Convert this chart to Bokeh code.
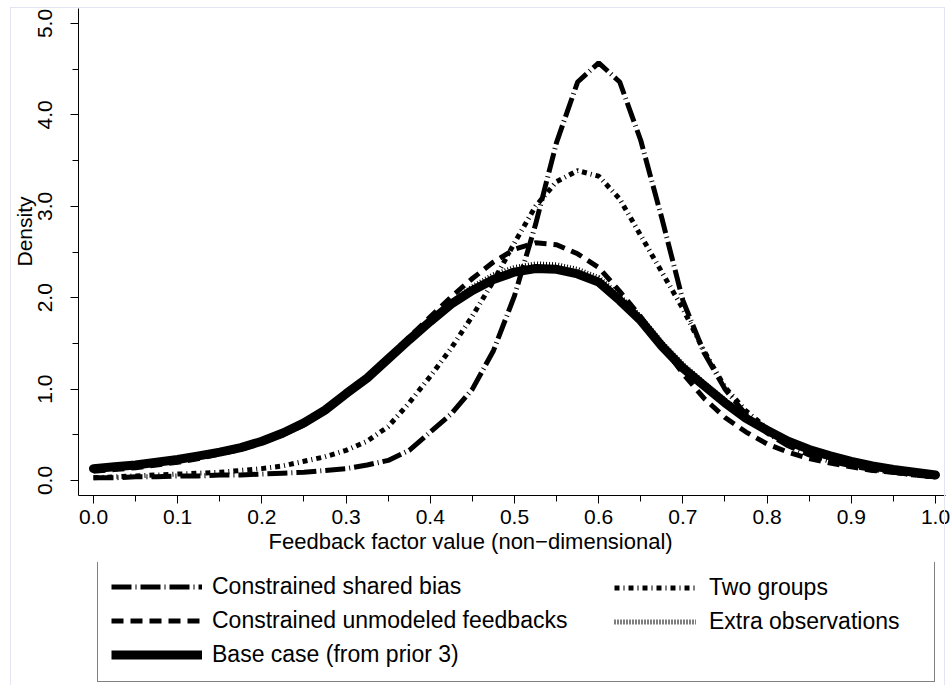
from bokeh.plotting import figure
from bokeh.layouts import column
from bokeh.models import (Range1d, FixedTicker, PrintfTickFormatter, Legend, LegendItem,
                          Title, InlineStyleSheet)
from bokeh.embed import file_html
from bokeh.resources import INLINE

# Feedback factor grid and posterior densities for each case
feedback = [0.000, 0.025, 0.050, 0.075, 0.100, 0.125, 0.150, 0.175, 0.200, 0.225,
            0.250, 0.275, 0.300, 0.325, 0.350, 0.375, 0.400, 0.425, 0.450, 0.475,
            0.500, 0.525, 0.550, 0.575, 0.600, 0.625, 0.650, 0.675, 0.700, 0.725,
            0.750, 0.775, 0.800, 0.825, 0.850, 0.875, 0.900, 0.925, 0.950, 0.975, 1.000]

shared_bias = [0.03, 0.03, 0.04, 0.04, 0.05, 0.05, 0.06, 0.06, 0.07, 0.08,
               0.09, 0.11, 0.13, 0.17, 0.22, 0.33, 0.53, 0.73, 1.00, 1.42,
               2.02, 2.80, 3.70, 4.36, 4.57, 4.36, 3.72, 2.87, 1.97, 1.40,
               1.00, 0.72, 0.52, 0.38, 0.28, 0.21, 0.16, 0.12, 0.09, 0.06, 0.04]

unmodeled = [0.10, 0.12, 0.14, 0.17, 0.20, 0.24, 0.29, 0.34, 0.41, 0.50,
             0.61, 0.75, 0.94, 1.13, 1.35, 1.57, 1.79, 2.01, 2.21, 2.39,
             2.53, 2.60, 2.58, 2.48, 2.33, 2.07, 1.79, 1.48, 1.17, 0.90,
             0.69, 0.53, 0.40, 0.31, 0.24, 0.19, 0.15, 0.11, 0.09, 0.07, 0.05]

base_case = [0.13, 0.15, 0.17, 0.20, 0.23, 0.27, 0.31, 0.36, 0.43, 0.52,
             0.63, 0.77, 0.95, 1.12, 1.33, 1.54, 1.74, 1.93, 2.08, 2.20,
             2.28, 2.32, 2.31, 2.26, 2.17, 1.97, 1.75, 1.47, 1.23, 1.04,
             0.85, 0.68, 0.55, 0.43, 0.34, 0.27, 0.21, 0.16, 0.12, 0.09, 0.06]

two_groups = [0.03, 0.04, 0.05, 0.06, 0.07, 0.08, 0.09, 0.11, 0.13, 0.16,
              0.21, 0.26, 0.33, 0.43, 0.59, 0.85, 1.14, 1.45, 1.80, 2.18,
              2.60, 3.00, 3.27, 3.39, 3.33, 3.08, 2.68, 2.28, 1.88, 1.42,
              1.02, 0.76, 0.57, 0.43, 0.32, 0.24, 0.18, 0.13, 0.09, 0.06, 0.04]

extra_obs = [0.13, 0.15, 0.17, 0.19, 0.22, 0.26, 0.30, 0.35, 0.42, 0.50,
             0.61, 0.75, 0.93, 1.11, 1.31, 1.53, 1.75, 1.95, 2.12, 2.25,
             2.33, 2.37, 2.36, 2.31, 2.22, 2.02, 1.79, 1.51, 1.27, 1.07,
             0.88, 0.70, 0.56, 0.44, 0.34, 0.27, 0.21, 0.16, 0.12, 0.09, 0.06]

x_ticks = [0.0, 0.1, 0.2, 0.3, 0.4, 0.5, 0.6, 0.7, 0.8, 0.9, 1.0]
x_minor = [0.05, 0.15, 0.25, 0.35, 0.45, 0.55, 0.65, 0.75, 0.85, 0.95]
y_ticks = [0, 1, 2, 3, 4, 5]
y_minor = [0.5, 1.5, 2.5, 3.5, 4.5]

FONT = "Liberation Sans, Arial, Helvetica, sans-serif"
TICK_FS = "21px"
LABEL_FS = "22px"
KEY_FS = "23px"

# line styles for each case
styles = {
    "shared": dict(line_color="black", line_width=5, line_dash="20 4 1 4"),
    "unmod": dict(line_color="black", line_width=5, line_dash="12 7"),
    "base": dict(line_color="black", line_width=9, line_cap="round"),
    "two": dict(line_color="black", line_width=5, line_dash="5 4 1 4"),
    "extra": dict(line_color="black", line_width=5, line_dash="1 2"),
}

p = figure(width=950, height=562, output_backend="svg", toolbar_location=None,
           x_range=Range1d(-0.0178, 1.0119), y_range=Range1d(-0.164, 5.164),
           min_border_left=78, min_border_right=5, min_border_top=8,
           min_border_bottom=67, background_fill_color="white",
           border_fill_color="white")
p.outline_line_color = None
p.xgrid.visible = False
p.ygrid.visible = False

for ax in (p.xaxis[0], p.yaxis[0]):
    ax.axis_line_color = "black"
    ax.major_tick_line_color = "black"
    ax.minor_tick_line_color = "black"
    ax.major_tick_in = 0
    ax.minor_tick_in = 0
    ax.major_tick_out = 8
    ax.minor_tick_out = 6
    ax.major_label_text_font = FONT
    ax.major_label_text_font_size = TICK_FS
    ax.major_label_text_color = "black"
    ax.formatter = PrintfTickFormatter(format="%.1f")

p.xaxis.ticker = FixedTicker(ticks=x_ticks, minor_ticks=x_minor)
p.yaxis.ticker = FixedTicker(ticks=y_ticks, minor_ticks=y_minor)
p.xaxis.major_label_standoff = 6
p.yaxis.major_label_orientation = "vertical"
p.yaxis.major_label_standoff = 18

xtitle = Title(text="Feedback factor value (non\u2212dimensional)", align="left",
               offset=190, standoff=0, text_font=FONT, text_font_size=LABEL_FS,
               text_font_style="normal", text_color="black")
p.add_layout(xtitle, "below")

ytitle = Title(text="Density", align="left", offset=229, standoff=0,
               text_font=FONT, text_font_size=TICK_FS, text_font_style="normal",
               text_color="black")
p.add_layout(ytitle, "left")

p.line(feedback, base_case, **styles["base"])
p.line(feedback, extra_obs, **styles["extra"])
p.line(feedback, unmodeled, **styles["unmod"])
p.line(feedback, two_groups, **styles["two"])
p.line(feedback, shared_bias, **styles["shared"])

# Key panel below the axes: same series styles, drawn outside its visible range
k = figure(width=950, height=123, output_backend="svg", toolbar_location=None,
           x_range=Range1d(2, 3), y_range=Range1d(2, 3), min_border=0,
           background_fill_color="white", border_fill_color="white")
k.axis.visible = False
k.grid.visible = False
k.outline_line_color = None

k_shared = k.line(feedback, shared_bias, **styles["shared"])
k_unmod = k.line(feedback, unmodeled, **styles["unmod"])
k_base = k.line(feedback, base_case, **{**styles["base"], "line_cap": "butt"})
k_two = k.line(feedback, two_groups, **styles["two"])
k_extra = k.line(feedback, extra_obs, **styles["extra"])

legend_style = dict(label_text_font=FONT, label_text_font_size=KEY_FS,
                    label_text_color="black", glyph_height=27, label_height=27,
                    spacing=7, padding=13, margin=0)

# the key's frame lines up with the plot frame (left edge at x=78)
leg_left = Legend(items=[LegendItem(label="Constrained shared bias", renderers=[k_shared]),
                         LegendItem(label="Constrained unmodeled feedbacks", renderers=[k_unmod]),
                         LegendItem(label="Base case (from prior 3)", renderers=[k_base])],
                  location=(19, 3), glyph_width=91, label_standoff=10,
                  label_width=709, border_line_color="black", border_line_width=1,
                  background_fill_color="white", background_fill_alpha=1,
                  **legend_style)
leg_right = Legend(items=[LegendItem(label="Two groups", renderers=[k_two]),
                          LegendItem(label="Extra observations", renderers=[k_extra])],
                   location=(523, 37), glyph_width=82, label_standoff=13,
                   border_line_alpha=0, background_fill_alpha=0,
                   **legend_style)
k.add_layout(leg_left)
k.add_layout(leg_right)

# faint page frame around the whole figure
frame_css = InlineStyleSheet(css="""
:host::after {
  content: '';
  position: absolute;
  left: 10px;
  top: 7px;
  width: 935px;
  height: 678px;
  box-sizing: border-box;
  border: 1px solid #e3e6f2;
  border-bottom: none;
  pointer-events: none;
}
""")

layout = column(p, k, spacing=0, stylesheets=[frame_css])
open("out.html", "w").write(file_html(layout, INLINE))
